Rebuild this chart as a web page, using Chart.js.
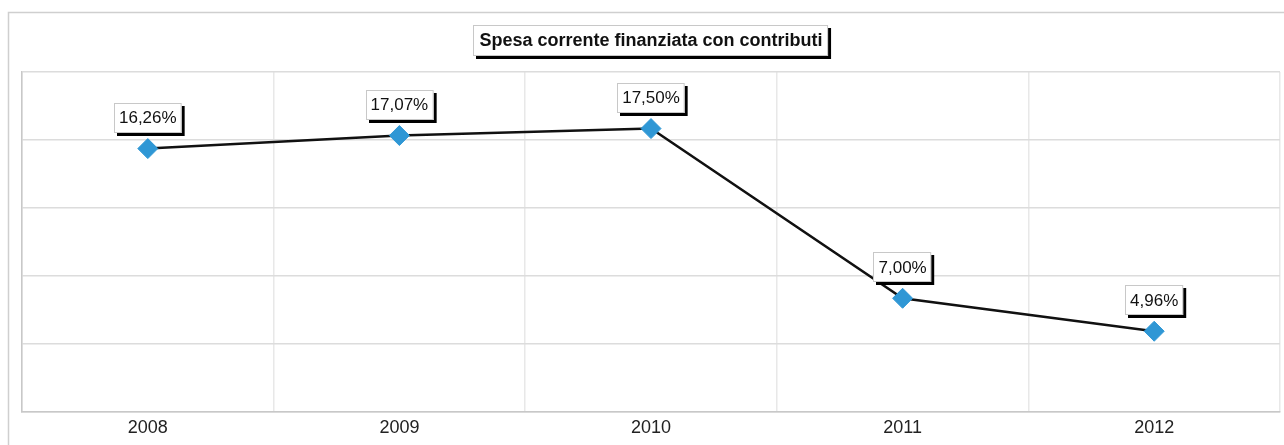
<!DOCTYPE html>
<html>
<head>
<meta charset="utf-8">
<script src="https://cdn.jsdelivr.net/npm/chart.js@4/dist/chart.umd.min.js"></script>
<style>
  html, body { margin: 0; background: #fff; overflow: hidden; }
  #wrap { width: 1284px; height: 445px; overflow: hidden; }
</style>
</head>
<body>
<div id="wrap"><canvas id="graph" width="1291" height="445"></canvas></div>
<script>
const years = ["2008", "2009", "2010", "2011", "2012"];
const values = [16.26, 17.07, 17.50, 7.00, 4.96];
const valueLabels = ["16,26%", "17,07%", "17,50%", "7,00%", "4,96%"];
const gridValues = [0, 4.2, 8.4, 12.6, 16.8, 21];
const chartTitle = "Spesa corrente finanziata con contributi";

const FONT = "'Liberation Sans', Arial, sans-serif";

// box with a black drop shadow, used for title and value labels
function shadowBox(ctx, cx, cy, text, font, padX, h) {
    ctx.font = font;
    const w = ctx.measureText(text).width + padX * 2;
    const x = Math.round(cx - w / 2), y = Math.round(cy - h / 2);
    ctx.fillStyle = "#000";
    ctx.fillRect(x + 3, y + 3, w, h);
    ctx.fillStyle = "#fff";
    ctx.fillRect(x, y, w, h);
    ctx.strokeStyle = "#c8c8c8";
    ctx.lineWidth = 1;
    ctx.strokeRect(x + 0.5, y + 0.5, w - 1, h - 1);
    ctx.fillStyle = "#111";
    ctx.textAlign = "center";
    ctx.textBaseline = "middle";
    ctx.fillText(text, cx, cy + 1);
}

const decor = {
    id: "decor",
    beforeDraw(chart) {
        const ctx = chart.ctx;
        ctx.save();
        ctx.strokeStyle = "#cfcfcf";
        ctx.lineWidth = 1.5;
        ctx.beginPath();
        ctx.moveTo(8.5, 450);
        ctx.lineTo(8.5, 12.5);
        ctx.lineTo(1300, 12.5);
        ctx.stroke();
        ctx.restore();
    },
    afterDatasetsDraw(chart) {
        const ctx = chart.ctx;
        ctx.save();
        const area = chart.chartArea;
        shadowBox(ctx, (area.left + area.right) / 2, 40, chartTitle, "bold 18px " + FONT, 6, 31);
        chart.getDatasetMeta(0).data.forEach((pt, i) => {
            shadowBox(ctx, pt.x, pt.y - 31, valueLabels[i], "17px " + FONT, 5, 30);
        });
        ctx.restore();
    }
};

new Chart(document.getElementById("graph"), {
    type: "line",
    data: {
        labels: years,
        datasets: [{
            data: values,
            borderColor: "#111",
            borderWidth: 2.5,
            tension: 0,
            pointStyle: "rectRot",
            pointRadius: 10,
            pointHoverRadius: 10,
            pointBackgroundColor: "#2f97d5",
            pointBorderColor: "#2f97d5",
            pointBorderWidth: 1
        }]
    },
    options: {
        responsive: false,
        animation: false,
        layout: {padding: {left: 22, right: 0, top: 72, bottom: 0}},
        plugins: {legend: {display: false}, title: {display: false}, tooltip: {enabled: false}},
        scales: {
            x: {
                offset: true,
                grid: {offset: true, color: "#e8e8e8", lineWidth: 1.5, drawTicks: false},
                border: {display: true, color: "#c8c8c8", width: 1.5},
                ticks: {color: "#222", font: {family: FONT, size: 18}, padding: 6}
            },
            y: {
                min: 0,
                max: 21,
                afterBuildTicks: axis => { axis.ticks = gridValues.map(v => ({value: v})); },
                grid: {color: "#dcdcdc", lineWidth: 1.5, drawTicks: false},
                border: {display: true, color: "#c8c8c8", width: 1.5},
                ticks: {display: false}
            }
        }
    },
    plugins: [decor]
});
</script>
</body>
</html>
